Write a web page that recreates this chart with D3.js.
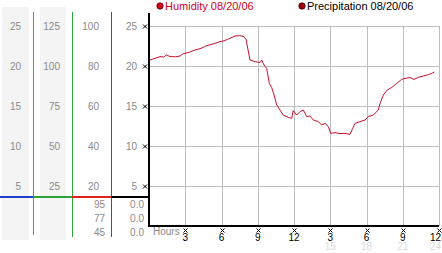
<!DOCTYPE html>
<html>
<head>
<meta charset="utf-8">
<script src="https://cdn.jsdelivr.net/npm/d3@7"></script>
<style>
  body { margin: 0; background: #fff; }
  svg { display: block; font-family: "Liberation Sans", Arial, sans-serif; }
</style>
</head>
<body>
<div id="chart"></div>
<script>
// humidity trace, hours since midnight / percent
var hours = [0, 0.3, 0.91, 1.2, 1.46, 1.74, 2.2, 2.57, 2.84, 3.3, 3.81, 4.3, 4.78, 5.3, 5.88, 6.2, 6.56, 7.12, 7.5, 7.86, 8.03,
  8.36, 8.77, 9.19, 9.33, 9.52, 9.74, 9.96, 10.15, 10.35, 10.57, 10.84, 11.11, 11.53, 11.81, 11.94, 12.22,
  12.5, 12.77, 13.05, 13.32, 13.6, 14.01, 14.29, 14.57, 14.84, 15.04, 15.39, 15.81, 16.22, 16.63,
  16.86, 17.05, 17.46, 17.88, 18.15, 18.56, 18.98, 19.12, 19.39, 19.72, 20.09, 20.5, 20.91, 21.19,
  21.6, 21.93, 22.29, 22.7, 23.12, 23.4, 23.61];
var humidity = [82.7, 83.4, 84.7, 84.5, 85.5, 84.7, 84.6, 85, 86.2, 86.8, 88, 88.8, 90.2, 91, 92.2, 92.6, 93.5, 95, 95.2, 94.7, 93.3,
  83, 82.2, 81.7, 83, 80.5, 78.8, 71.3, 69.3, 65.5, 60.5, 58, 55.5, 54.3, 53.8, 57.7, 55.5,
  57.2, 58, 54.7, 55, 53, 52.2, 50.5, 51.3, 49.7, 46.3, 46.7, 46.2, 46.3, 45.8,
  48.8, 51.3, 52.2, 53, 54.7, 55.5, 58, 61.3, 65.5, 68, 69.3, 71.3, 73.3, 73.8,
  74.2, 73.3, 74.3, 75, 75.7, 76.3, 77];

var hourTicks = [3, 6, 9, 12, 15, 18, 21, 24];
var hourLabels = ["3", "6", "9", "12", "3", "6", "9", "12"];
var hour24Labels = ["", "", "", "", "15", "18", "21", "24"];

var col1Ticks = [5, 10, 15, 20, 25];
var col2Ticks = [25, 50, 75, 100, 125];
var col3Ticks = [20, 40, 60, 80, 100];
var col4Ticks = [5, 10, 15, 20, 25];
var humiditySummary = ["95", "77", "45"];   // max / avg / min
var precipSummary = ["0.0", "0.0", "0.0"];

var legendItems = ["Humidity 08/20/06", "Precipitation 08/20/06"];

var W = 442, H = 253;
var svg = d3.select("#chart").append("svg").attr("width", W).attr("height", H);

var x = d3.scaleLinear().domain([0, 24]).range([149, 439]);
var y = d3.scaleLinear().domain([0, 100]).range([226, 26]);
var y25 = d3.scaleLinear().domain([0, 25]).range([226, 26]);
var y125 = d3.scaleLinear().domain([0, 125]).range([226, 26]);

// shaded columns on the left
svg.append("rect").attr("x", 2).attr("y", 7).attr("width", 27).attr("height", 233).attr("fill", "#f4f4f4");
svg.append("rect").attr("x", 40).attr("y", 7).attr("width", 26).attr("height", 233).attr("fill", "#f4f4f4");

function colLabels(ticks, sc, xr) {
  svg.append("g").selectAll("text").data(ticks).join("text")
    .attr("x", xr).attr("y", function(d){ return sc(d); })
    .attr("dy", "0.35em").attr("text-anchor", "end")
    .attr("font-size", 10).attr("fill", "#8a8a8a")
    .text(function(d){ return d; });
}
colLabels(col1Ticks, y25, 21);
colLabels(col2Ticks, y125, 60);
colLabels(col3Ticks, y, 99);
colLabels(col4Ticks, y25, 137);

// summary rows
var rowY = d3.scalePoint().domain([0, 1, 2]).range([204, 232]);
svg.append("g").selectAll("text").data(humiditySummary).join("text")
  .attr("x", 105).attr("y", function(d, i){ return rowY(i); }).attr("dy", "0.35em")
  .attr("text-anchor", "end").attr("font-size", 10).attr("fill", "#8a8a8a").text(function(d){ return d; });
svg.append("g").selectAll("text").data(precipSummary).join("text")
  .attr("x", 144).attr("y", function(d, i){ return rowY(i); }).attr("dy", "0.35em")
  .attr("text-anchor", "end").attr("font-size", 10).attr("fill", "#8a8a8a").text(function(d){ return d; });

// vertical colored separators
svg.append("line").attr("x1", 33.5).attr("x2", 33.5).attr("y1", 12).attr("y2", 235).attr("stroke", "#2a9ad0");
svg.append("line").attr("x1", 72.5).attr("x2", 72.5).attr("y1", 12).attr("y2", 237).attr("stroke", "#2ea33a");
svg.append("line").attr("x1", 111.5).attr("x2", 111.5).attr("y1", 12).attr("y2", 237).attr("stroke", "#c42026");

// colored baseline
svg.append("line").attr("x1", 0).attr("x2", 33).attr("y1", 197).attr("y2", 197).attr("stroke", "#1c3fd0").attr("stroke-width", 2);
svg.append("line").attr("x1", 33).attr("x2", 72).attr("y1", 197).attr("y2", 197).attr("stroke", "#2ea33a").attr("stroke-width", 2);
svg.append("line").attr("x1", 72).attr("x2", 111).attr("y1", 197).attr("y2", 197).attr("stroke", "#e02020").attr("stroke-width", 2);
svg.append("line").attr("x1", 111).attr("x2", 149).attr("y1", 197).attr("y2", 197).attr("stroke", "#000").attr("stroke-width", 2);

// grid
var grid = svg.append("g").attr("stroke", "#bdbdbd").attr("stroke-width", 1);
grid.selectAll(".h").data(col3Ticks).join("line")
  .attr("x1", 149).attr("x2", 439)
  .attr("y1", function(d){ return Math.round(y(d)) + 0.5; })
  .attr("y2", function(d){ return Math.round(y(d)) + 0.5; });
grid.selectAll(".v").data(hourTicks).join("line")
  .attr("x1", function(d){ return Math.round(x(d)) + 0.5; })
  .attr("x2", function(d){ return Math.round(x(d)) + 0.5; })
  .attr("y1", 26).attr("y2", 226);

// little x-shaped tick marks
var tickMark = "M-2,-2L2,2M2,-2L-2,2";
svg.append("g").selectAll("path").data(col3Ticks).join("path")
  .attr("transform", function(d){ return "translate(145," + (Math.round(y(d)) + 0.5) + ")"; })
  .attr("d", tickMark).attr("stroke", "#000").attr("stroke-width", 1).attr("fill", "none");
svg.append("g").selectAll("path").data(hourTicks).join("path")
  .attr("transform", function(d){ return "translate(" + (Math.round(x(d)) + 0.5) + ",230.5)"; })
  .attr("d", tickMark).attr("stroke", "#000").attr("stroke-width", 1).attr("fill", "none");

// humidity line
var line = d3.line().x(function(d, i){ return x(hours[i]); }).y(function(d){ return y(d); });
svg.append("path").datum(humidity).attr("d", line)
  .attr("fill", "none").attr("stroke", "#c8102e").attr("stroke-width", 1);

// axes
svg.append("line").attr("x1", 149).attr("x2", 149).attr("y1", 13).attr("y2", 227).attr("stroke", "#000").attr("stroke-width", 2);
svg.append("line").attr("x1", 148).attr("x2", 439).attr("y1", 226).attr("y2", 226).attr("stroke", "#000").attr("stroke-width", 2);

// hour labels
svg.append("text").attr("x", 153).attr("y", 235).attr("font-size", 10).attr("fill", "#8a8a8a").text("Hours");
function lastAnchor(d){ return d === 24 ? "end" : "middle"; }
function lastX(d){ return d === 24 ? 441 : x(d); }
svg.append("g").selectAll("text").data(hourTicks).join("text")
  .attr("x", lastX).attr("y", 240.5)
  .attr("text-anchor", lastAnchor).attr("font-size", 10).attr("fill", "#000")
  .text(function(d, i){ return hourLabels[i]; });
svg.append("g").selectAll("text").data(hourTicks).join("text")
  .attr("x", lastX).attr("y", 250)
  .attr("text-anchor", lastAnchor).attr("font-size", 10).attr("fill", "#dcdcdc")
  .text(function(d, i){ return hour24Labels[i]; });

// legend
var lg = svg.append("g");
lg.append("circle").attr("cx", 160).attr("cy", 6).attr("r", 3.2).attr("fill", "#d0021b").attr("stroke", "#600").attr("stroke-width", 0.8);
lg.append("text").attr("x", 165).attr("y", 10).attr("font-size", 11).attr("fill", "#d0021b").text(legendItems[0]);
lg.append("circle").attr("cx", 302).attr("cy", 6).attr("r", 3.2).attr("fill", "#a00010").attr("stroke", "#300").attr("stroke-width", 0.8);
lg.append("text").attr("x", 307).attr("y", 10).attr("font-size", 11).attr("fill", "#000").text(legendItems[1]);
</script>
</body>
</html>
